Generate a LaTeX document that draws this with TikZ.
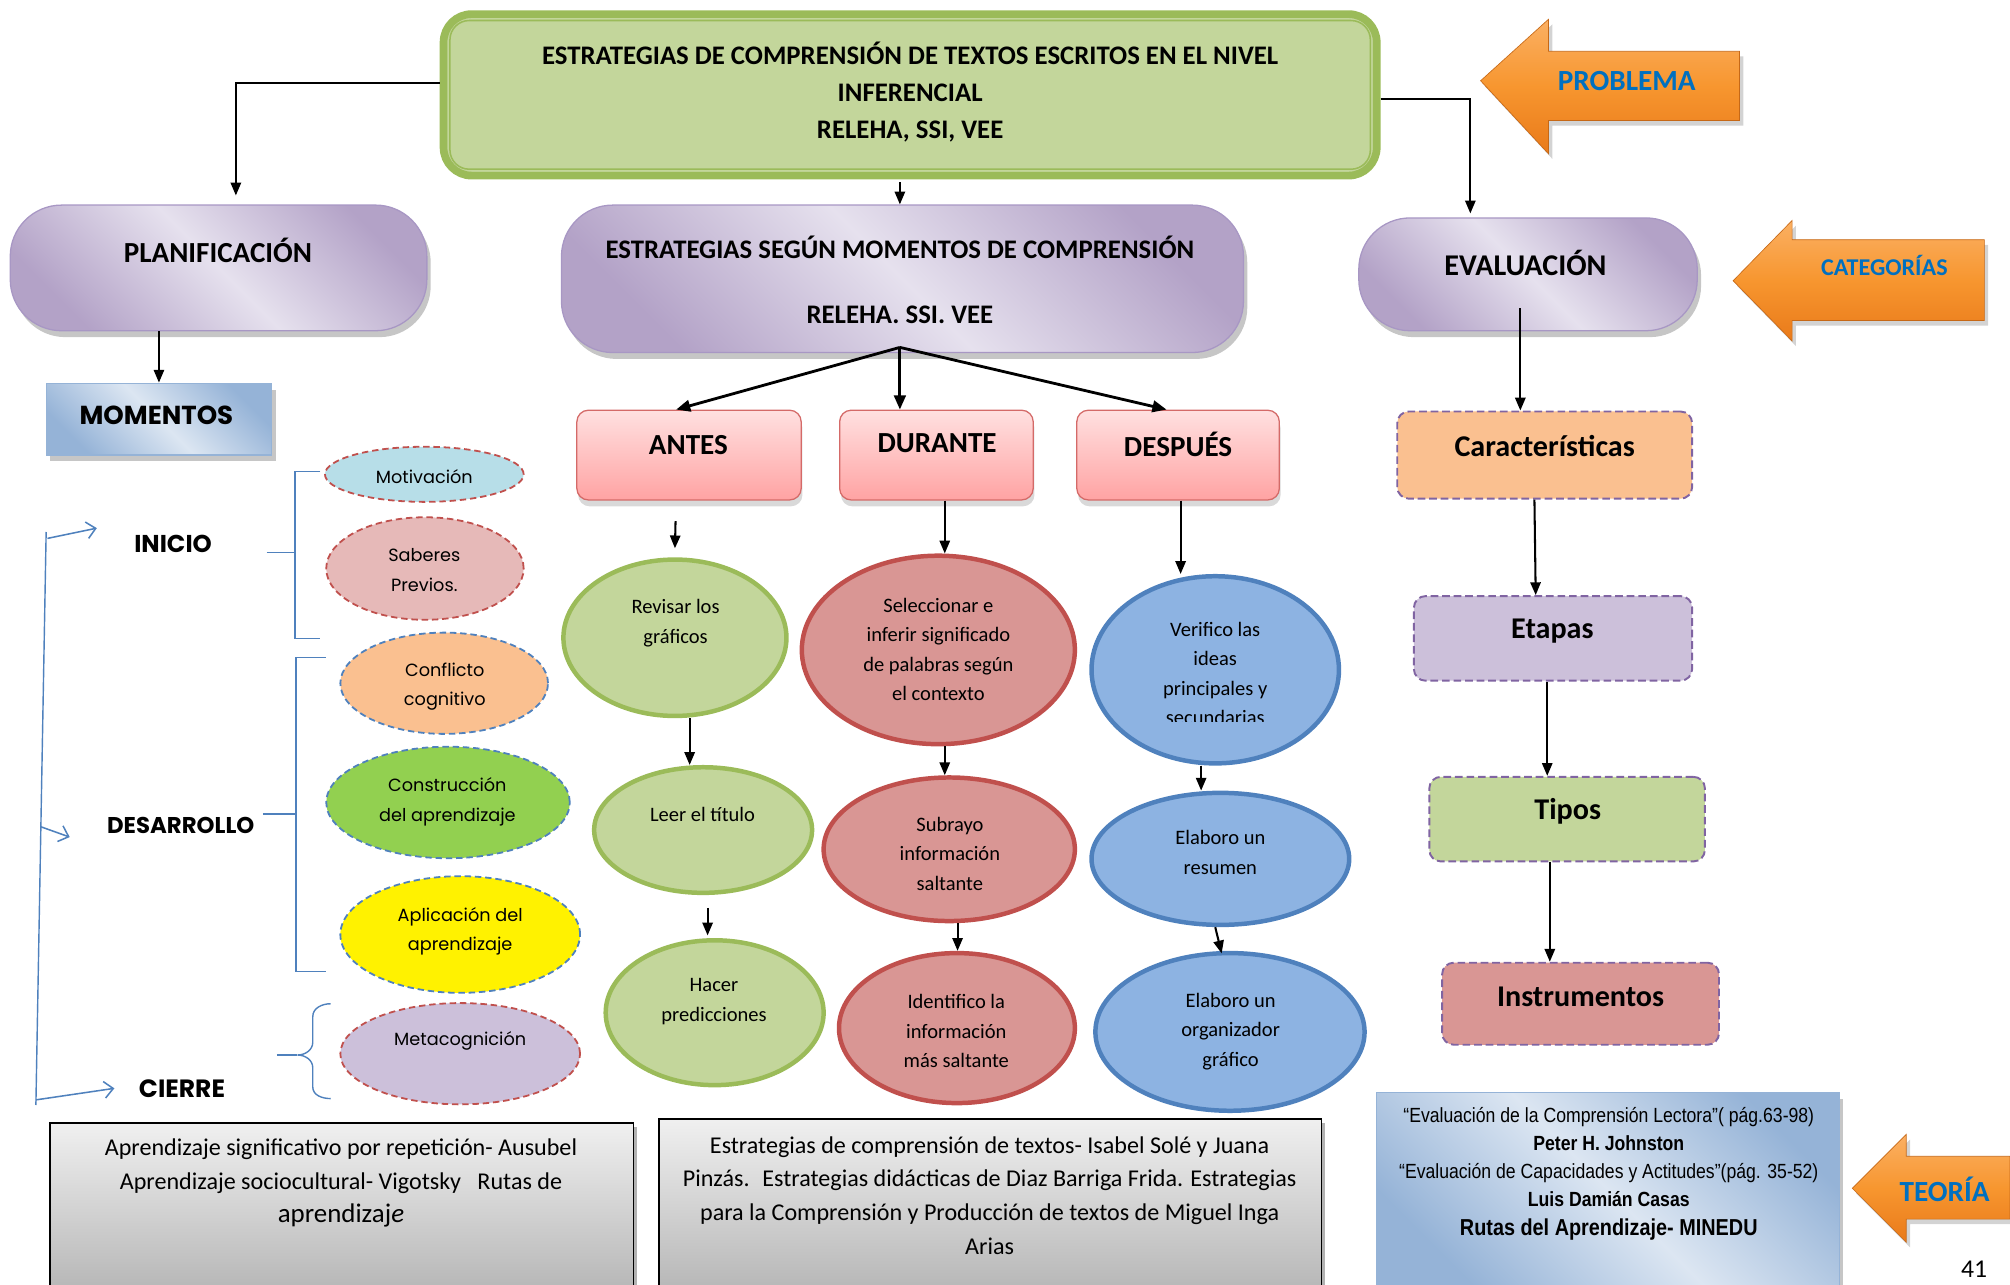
\documentclass[tikz,border=0pt]{standalone}
\usepackage{fontspec}
\setmainfont{Carlito}
\newfontfamily\gothic{Poppins}
\newfontfamily\narrowf[FakeStretch=0.86]{Liberation Sans}
\usetikzlibrary{shapes.geometric,arrows.meta,shadows,calc}
\definecolor{gfill}{HTML}{C3D69B}
\definecolor{gline}{HTML}{9BBB59}
\definecolor{plight}{HTML}{E6E1EE}
\definecolor{pdark}{HTML}{B3A2C7}
\definecolor{pline}{HTML}{A897C4}
\definecolor{blight}{HTML}{DCE6F2}
\definecolor{bdark}{HTML}{95B3D7}
\definecolor{pinkt}{HTML}{FFE0E0}
\definecolor{pinkb}{HTML}{FFA3A3}
\definecolor{pinkl}{HTML}{D46A68}
\definecolor{rfill}{HTML}{D99694}
\definecolor{rline}{HTML}{C0504D}
\definecolor{bfill}{HTML}{8DB3E2}
\definecolor{bline}{HTML}{4F81BD}
\definecolor{orfill}{HTML}{FAC090}
\definecolor{lavfill}{HTML}{CCC0DA}
\definecolor{vline}{HTML}{8064A2}
\definecolor{cyanfill}{HTML}{B7DEE8}
\definecolor{rosefill}{HTML}{E6B9B8}
\definecolor{limefill}{HTML}{92D050}
\definecolor{orT}{HTML}{FBB063}
\definecolor{orM}{HTML}{F7962F}
\definecolor{orB}{HTML}{E97A1A}
\definecolor{textblue}{HTML}{0070C0}
\newcommand\setfs[2]{\fontsize{#1}{#2}\selectfont}
\tikzset{
  arr/.style={line width=1.6pt,-{Triangle[length=10pt,width=8pt]}},
  arrthick/.style={line width=2.2pt,-{Triangle[length=11pt,width=9pt]}},
  barr/.style={bline,line width=1.2pt,-{Straight Barb[length=7pt,width=13pt]}},
  brk/.style={bline,line width=1.1pt},
  shadowed/.style={drop shadow={shadow xshift=3pt,shadow yshift=-5pt,fill=black!50,opacity=.45}},
  titlebox/.style={draw=gline,line width=6pt,fill=gfill,rounded corners=22pt},
  pillbox/.style={draw=pline,line width=1pt,rounded corners=40pt,top color=pdark,bottom color=pdark,middle color=plight,shading angle=-45,shadowed},
  momebox/.style={draw=bdark,line width=1pt,top color=bdark,bottom color=bdark,middle color=blight,shading angle=-45,shadowed},
  pinkbox/.style={draw=pinkl,line width=1pt,rounded corners=9pt,top color=pinkt,bottom color=pinkb,drop shadow={shadow xshift=1pt,shadow yshift=-5pt,fill=black!50,opacity=.3}},
  catbox/.style={draw=vline,line width=1.5pt,dash pattern=on 6pt off 3pt,rounded corners=9pt},
  bigell/.style={ellipse,line width=3.5pt,inner sep=0pt},
  gell/.style={bigell,draw=gline,fill=gfill},
  rell/.style={bigell,draw=rline,fill=rfill},
  bell/.style={bigell,draw=bline,fill=bfill},
  smell/.style={ellipse,line width=1.4pt,dash pattern=on 5pt off 3pt,inner sep=0pt},
  refbox/.style={draw=black,line width=1pt,top color=black!6,bottom color=black!28,drop shadow={shadow xshift=3pt,shadow yshift=-3pt,fill=black!60,opacity=.5}},
  teobox/.style={draw=bdark,line width=1pt,top color=bdark,bottom color=bdark,middle color=blight,shading angle=-45,shadowed},
  orarrow/.style={top color=orT,bottom color=orB,middle color=orM,draw=orB!85!black,line width=.5pt,drop shadow={shadow xshift=3pt,shadow yshift=-4pt,fill=black!50,opacity=.35}},
  hb/.style={font=\bfseries\setfs{20.9}{29},align=center,inner sep=0pt},
  hbig/.style={font=\bfseries\setfs{22.7}{26},align=center,inner sep=0pt},
  etext/.style={font=\setfs{16}{23},align=center,inner sep=0pt},
  gtext/.style={font=\gothic\setfs{13.8}{23},align=center,inner sep=0pt},
  gbold/.style={font=\gothic\bfseries\setfs{19}{22},inner sep=0pt},
  reftext/.style={font=\setfs{18.8}{26.3},align=center,inner sep=0pt},
  teotext/.style={font=\narrowf\setfs{16}{22},align=center,inner sep=0pt},
  ortext/.style={font=\bfseries\setfs{22.8}{24},text=textblue,inner sep=0pt},
}
\begin{document}
\begin{tikzpicture}[x=1pt,y=-1pt]
\useasboundingbox (0,0) rectangle (1568,1002);

% ---------- title ----------
\node[titlebox,minimum width=728pt,minimum height=126pt] (title) at (710,74) {};
\draw[gline,line width=1.2pt,rounded corners=15pt] ($(title.north west)+(8,8)$) rectangle ($(title.south east)+(-8,-8)$);
\node[hb] (titletext) at (710,72) {ESTRATEGIAS DE COMPRENSIÓN DE TEXTOS ESCRITOS EN EL NIVEL\\INFERENCIAL\\RELEHA, SSI, VEE};

% ---------- second row ----------
\node[pillbox,minimum width=325pt,minimum height=98pt] (plan) at (170.5,209) {};
\node[hbig] (plantext) at (170,195) {PLANIFICACIÓN};
\node[pillbox,minimum width=532pt,minimum height=115pt] (estr) at (704,217.5) {};
\node[hb,font=\bfseries\setfs{20.9}{51}] (estrtext) at (702,218.5) {ESTRATEGIAS SEGÚN MOMENTOS DE COMPRENSIÓN\\RELEHA. SSI. VEE};
\node[pillbox,minimum width=264pt,minimum height=88pt] (eval) at (1192,214) {};
\node[hbig,font=\bfseries\setfs{23.5}{26}] (evaltext) at (1190,205) {EVALUACIÓN};

% ---------- orange arrows ----------
\path[orarrow] (1155,63) -- (1208,15) -- (1208,40) -- (1357,40) -- (1357,94) -- (1208,94) -- (1208,120) -- cycle;
\node[ortext] (problema) at (1269,63) {PROBLEMA};
\path[orarrow] (1352,219) -- (1398,172) -- (1398,187) -- (1548,187) -- (1548,250) -- (1398,250) -- (1398,266) -- cycle;
\node[ortext,font=\bfseries\setfs{18.8}{20}] (categorias) at (1470,207) {CATEGORÍAS};
\path[orarrow] (1445,927) -- (1487,885) -- (1487,902) -- (1568,902) -- (1568,951) -- (1487,951) -- (1487,969) -- cycle;
\node[ortext] (teoria) at (1517,928) {TEORÍA};

% ---------- title connectors ----------
\draw[arr] ([yshift=9pt]title.west) -| ([xshift=13.5pt,yshift=7pt]plan.north);
\coordinate (tb) at (702,142);
\draw[arr] (tb) -- (702,0 |- estr.north);
\draw[arr] ([yshift=-3pt]title.east) -| ([xshift=-45pt,yshift=3pt]eval.north);

% ---------- momentos ----------
\node[momebox,minimum width=176pt,minimum height=56pt] (mom) at (124,327) {};
\node[gbold,font=\gothic\bfseries\setfs{20.3}{22}] (momtext) at (122,324) {MOMENTOS};
\draw[arr] (mom.north |- plan.south) -- (mom.north);

% ---------- antes / durante / despues ----------
\node[pinkbox,minimum width=175pt,minimum height=70pt] (antes) at (537.5,355) {};
\node[hbig] (antestext) at (537,347) {ANTES};
\node[pinkbox,minimum width=151pt,minimum height=70pt] (durante) at (730.5,355) {};
\node[hbig] (durantetext) at (731,346) {DURANTE};
\node[pinkbox,minimum width=158pt,minimum height=70pt] (despues) at (919,355) {};
\node[hbig] (despuestext) at (919,347) {DESPUÉS};
\coordinate (hub) at (702,271);
\draw[arrthick] (hub) -- ([xshift=-10pt]antes.north);
\draw[arrthick] (hub) -- (702,0 |- durante.north);
\draw[arrthick] (hub) -- ([xshift=-9pt]despues.north);

% ---------- antes column ----------
\node[gell,minimum width=174pt,minimum height=122pt] (rev) at (526.5,497.5) {};
\node[etext] (revtext) at (527,486) {Revisar los\\gráficos};
\node[gell,minimum width=170pt,minimum height=98pt] (leer) at (548.5,647.5) {};
\node[etext] (leertext) at (548,635) {Leer el título};
\node[gell,minimum width=170pt,minimum height=113pt] (hacer) at (557.5,790) {};
\node[etext] (hacertext) at (557,781.5) {Hacer\\predicciones};
\draw[arr] ([xshift=-10.5pt,yshift=-16pt]antes.south) -- ([yshift=7pt]rev.north);
\draw[arr] (538,0 |- rev.south) -- (538,0 |- leer.north);
\draw[arr] ($(552,0 |- leer.south)+(0,10)$) -- ($(552,0 |- hacer.north)+(0,-2)$);

% ---------- durante column ----------
\node[rell,minimum width=213pt,minimum height=147pt] (sel) at (732,507) {};
\node[etext] (seltext) at (732,506.5) {Seleccionar e\\inferir significado\\de palabras según\\el contexto};
\node[rell,minimum width=196pt,minimum height=112pt] (sub) at (740.5,662.5) {};
\node[etext] (subtext) at (741,666) {Subrayo\\información\\saltante};
\node[rell,minimum width=184pt,minimum height=117pt] (ident) at (746.5,802) {};
\node[etext] (identtext) at (746,804.5) {Identifico la\\información\\más saltante};
\draw[arr] (737,0 |- durante.south) -- (737,0 |- sel.north);
\draw[arr] (737,0 |- sel.south) -- (737,0 |- sub.north);
\draw[arr] (747,0 |- sub.south) -- (747,0 |- ident.north);

% ---------- despues column ----------
\node[bell,minimum width=193pt,minimum height=146pt] (ver) at (948,522.5) {};
\begin{scope}
\clip (850,440) rectangle (1046,563);
\node[etext] (vertext) at (948,525.5) {Verifico las\\ideas\\principales y\\secundarias};
\end{scope}
\node[bell,minimum width=201pt,minimum height=103pt] (res) at (952,670) {};
\node[etext] (restext) at (952,665) {Elaboro un\\resumen};
\node[bell,minimum width=210pt,minimum height=123pt] (org) at (959.5,805) {};
\node[etext] (orgtext) at (960,804.5) {Elaboro un\\organizador\\gráfico};
\draw[arr] (921,0 |- despues.south) -- (921,0 |- ver.north);
\draw[arr] (937,0 |- ver.south) -- (937,0 |- res.north);
\draw[arr] (948,0 |- res.south) -- ($(953,0 |- org.north)+(0,2)$);

% ---------- evaluacion column ----------
\node[catbox,fill=orfill,minimum width=230pt,minimum height=68pt] (caract) at (1205,355) {};
\node[hbig,font=\bfseries\setfs{23.5}{26}] (caracttext) at (1205,348) {Características};
\node[catbox,fill=lavfill,minimum width=217pt,minimum height=66pt] (etapas) at (1211.5,498) {};
\node[hbig,font=\bfseries\setfs{23.5}{26}] (etapastext) at (1211,492) {Etapas};
\node[catbox,fill=gfill,minimum width=215pt,minimum height=66pt] (tipos) at (1222.5,639) {};
\node[hbig,font=\bfseries\setfs{23.5}{26}] (tipostext) at (1223,633) {Tipos};
\node[catbox,fill=rfill,minimum width=216pt,minimum height=64pt] (instr) at (1233,783) {};
\node[hbig,font=\bfseries\setfs{23.5}{26}] (instrtext) at (1233,778) {Instrumentos};
\draw[arr] ($(1186,0 |- eval.south)+(0,-18)$) -- (1186,0 |- caract.north);
\draw[arr] (1197,0 |- caract.south) -- (1198,0 |- etapas.north);
\draw[arr] (1207,0 |- etapas.south) -- (1207,0 |- tipos.north);
\draw[arr] (1209,0 |- tipos.south) -- (1209,0 |- instr.north);

% ---------- momentos structure (left) ----------
\node[gbold] (inicio) at (135,424) {INICIO};
\node[gbold,font=\gothic\bfseries\setfs{17.8}{20}] (desarrollo) at (141,644) {DESARROLLO};
\node[gbold,font=\gothic\bfseries\setfs{19.5}{22}] (cierre) at (142,849) {CIERRE};
\coordinate (vtop) at (36,415);
\coordinate (vbot) at (28,862);
\coordinate (vmid) at (32,645);
\draw[brk] (vtop) -- (vbot);
\draw[barr] ($(vtop)+(1,5)$) -- ([xshift=-29pt,yshift=12pt]inicio.west);
\draw[barr] (vmid) -- ([xshift=-29pt,yshift=-9pt]desarrollo.west);
\draw[barr] ($(vbot)+(0,-4)$) -- ([xshift=-19pt]cierre.west);

% brackets
\draw[brk] (250,368) -- (230,368) -- (230,498) -- (250,498);
\draw[brk] (208,431) -- (230,431);
\draw[brk] (254,513) -- (231,513) -- (231,758) -- (254,758);
\draw[brk] (205,635) -- (231,635);
\draw[brk] (258,783) to[out=180,in=90] (244,793) -- (244,813) to[out=-90,in=0] (232,823) to[out=0,in=90] (244,833) -- (244,848) to[out=-90,in=180] (258,857);
\draw[brk] (216,823) -- (232,823);

% small ellipses
\node[smell,draw=rline,fill=cyanfill,minimum width=155pt,minimum height=43pt] (mot) at (331,370) {};
\node[gtext] (mottext) at (331,372) {Motivación};
\node[smell,draw=rline,fill=rosefill,minimum width=154pt,minimum height=80pt] (sab) at (331.5,443.5) {};
\node[gtext] (sabtext) at (331,444.5) {Saberes\\Previos.};
\node[smell,draw=bline,fill=orfill,minimum width=162pt,minimum height=79pt] (conf) at (346.5,533) {};
\begin{scope}
\clip (265,490) rectangle (430,555);
\node[gtext] (conftext) at (347,535.5) {Conflicto\\cognitivo};
\end{scope}
\node[smell,draw=bline,fill=limefill,minimum width=190pt,minimum height=87pt] (cons) at (349.5,626) {};
\node[gtext] (constext) at (349,625.5) {Construcción\\del aprendizaje};
\node[smell,draw=bline,fill=yellow,minimum width=187pt,minimum height=91pt] (apl) at (359,729) {};
\node[gtext] (apltext) at (359,726.5) {Aplicación del\\aprendizaje};
\node[smell,draw=rline,fill=lavfill,minimum width=187pt,minimum height=79pt] (meta) at (359,822) {};
\node[gtext] (metatext) at (359,812) {Metacognición};

% ---------- bottom reference boxes ----------
\node[refbox,minimum width=455pt,minimum height=128pt] (refl) at (266.5,940) {};
\node[reftext] (refltext) at (266,923) {Aprendizaje significativo por repetición- Ausubel\\Aprendizaje sociocultural- Vigotsky \ \ Rutas de\\{\setfs{21}{28}aprendizaj\textit{e}}};
\node[refbox,minimum width=517pt,minimum height=131pt] (refm) at (772.5,938.5) {};
\node[reftext] (refmtext) at (772,932.5) {Estrategias de comprensión de textos- Isabel Solé y Juana\\Pinzás. \ Estrategias didácticas de Diaz Barriga Frida. Estrategias\\para la Comprensión y Producción de textos de Miguel Inga\\Arias};
\node[teobox,minimum width=361pt,minimum height=152pt] (refr) at (1254.5,928) {};
\node[teotext] (refrtext) at (1255,915.5) {“Evaluación de la Comprensión Lectora”( pág.63-98)\\\textbf{Peter H. Johnston}\\“Evaluación de Capacidades y Actitudes”(pág. 35-52)\\\textbf{Luis Damián Casas}\\{\bfseries\setfs{18}{23}Rutas del Aprendizaje- MINEDU}};

\node[font=\setfs{20}{22},inner sep=0pt] (pagenum) at (1540,990) {41};
\end{tikzpicture}
\end{document}
